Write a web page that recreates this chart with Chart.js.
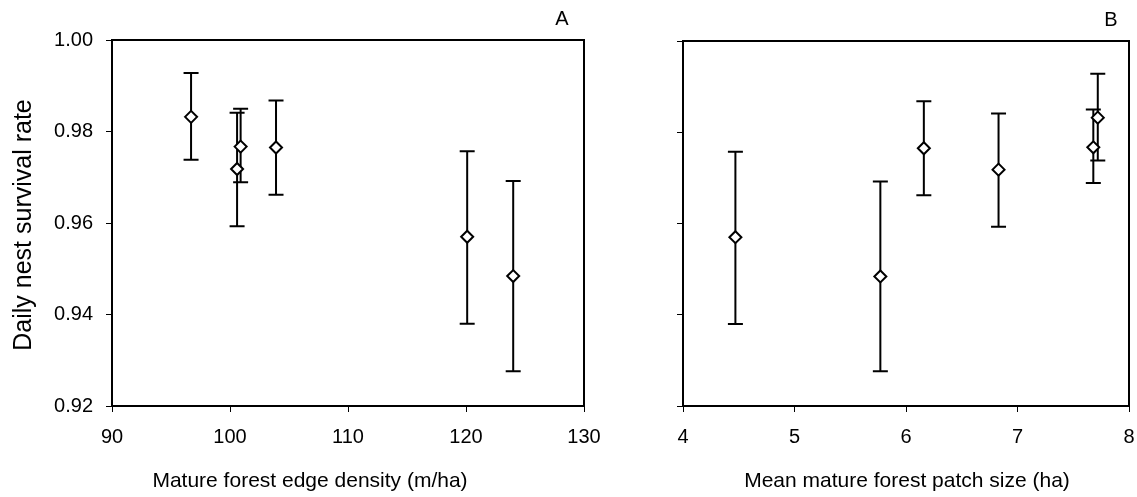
<!DOCTYPE html>
<html lang="en">
<head>
    <meta charset="UTF-8">
    <title>Daily nest survival</title>
    <script src="https://cdn.jsdelivr.net/npm/chart.js"></script>
    <style>
        body { margin: 0; background: #fff; }
        #wrapA { position: absolute; left: 0; top: 0; }
        #wrapB { position: absolute; left: 600px; top: 0; }
    </style>
</head>
<body>
    <div id="wrapA"><canvas id="chartA" width="600" height="497"></canvas></div>
    <div id="wrapB"><canvas id="chartB" width="537" height="497"></canvas></div>

    <script>
        // one entry per site
        const edgeDensity = [96.7, 100.6, 100.9, 103.9, 120.1, 124.0];
        const patchSize = [7.72, 6.83, 7.68, 6.16, 4.47, 5.77];
        const survival = [0.9832, 0.9718, 0.9767, 0.9765, 0.9570, 0.9484];
        const ciLow = [0.9738, 0.9593, 0.9689, 0.9662, 0.9380, 0.9276];
        const ciHigh = [0.9928, 0.9841, 0.9850, 0.9868, 0.9757, 0.9692];

        const yTicks = [0.92, 0.94, 0.96, 0.98, 1.00];
        const xTicksA = [90, 100, 110, 120, 130];
        const xTicksB = [4, 5, 6, 7, 8];

        const family = '"Liberation Sans", Arial, sans-serif';
        const tickFont = { family: family, size: 20 };
        Chart.defaults.color = '#000';

        // vertical error bars with caps, drawn under the diamonds
        const errorBars = {
            id: 'errorBars',
            beforeDatasetsDraw(chart) {
                const ctx = chart.ctx;
                const xs = chart.scales.x, ys = chart.scales.y;
                const pts = chart.data.datasets[0].data;
                ctx.save();
                ctx.strokeStyle = '#000';
                ctx.lineWidth = 2;
                pts.forEach((p, i) => {
                    const x = xs.getPixelForValue(p.x);
                    const y1 = ys.getPixelForValue(ciLow[i]);
                    const y2 = ys.getPixelForValue(ciHigh[i]);
                    ctx.beginPath();
                    ctx.moveTo(x, y1); ctx.lineTo(x, y2);
                    ctx.moveTo(x - 7.5, y1); ctx.lineTo(x + 7.5, y1);
                    ctx.moveTo(x - 7.5, y2); ctx.lineTo(x + 7.5, y2);
                    ctx.stroke();
                });
                ctx.restore();
            }
        };

        // box round the plot area, panel letter and axis titles
        const frame = {
            id: 'frame',
            afterDraw(chart, args, o) {
                const ctx = chart.ctx;
                const a = chart.chartArea;
                ctx.save();
                ctx.strokeStyle = '#000';
                ctx.lineWidth = 2;
                ctx.strokeRect(a.left, a.top, a.right - a.left, a.bottom - a.top);
                ctx.fillStyle = '#000';
                ctx.textAlign = 'center';
                ctx.textBaseline = 'middle';
                ctx.font = '20px ' + family;
                ctx.fillText(o.letter, a.right - o.letterDx, a.top - 21);
                ctx.font = '21px ' + family;
                ctx.fillText(o.xTitle, o.xTitleX, a.bottom + 75);
                if (o.yTitle) {
                    ctx.translate(24, (a.top + a.bottom) / 2 + 2);
                    ctx.rotate(-Math.PI / 2);
                    ctx.font = '25px ' + family;
                    ctx.fillText(o.yTitle, 0, 0);
                }
                ctx.restore();
            }
        };

        function makeChart(id, xs, xTicks, frameOpts, yWidth, showY, pad) {
            return new Chart(document.getElementById(id).getContext('2d'), {
                type: 'scatter',
                data: {
                    datasets: [{
                        data: xs.map((v, i) => ({ x: v, y: survival[i] })),
                        pointStyle: 'rectRot',
                        pointRadius: 6,
                        pointBorderWidth: 2,
                        pointBorderColor: '#000',
                        pointBackgroundColor: '#fff'
                    }]
                },
                options: {
                    responsive: false,
                    animation: false,
                    events: [],
                    layout: { padding: pad },
                    plugins: {
                        legend: { display: false },
                        tooltip: { enabled: false },
                        frame: frameOpts
                    },
                    scales: {
                        x: {
                            type: 'linear',
                            min: xTicks[0],
                            max: xTicks[xTicks.length - 1],
                            afterBuildTicks: s => { s.ticks = xTicks.map(v => ({ value: v })); },
                            afterFit: s => { s.height = 91; s.paddingLeft = 0; s.paddingRight = 0; },
                            grid: { drawOnChartArea: false, tickLength: 6, tickColor: '#000', tickWidth: 1 },
                            border: { color: '#000', width: 2 },
                            ticks: { font: tickFont, padding: 13, maxRotation: 0 }
                        },
                        y: {
                            type: 'linear',
                            min: yTicks[0],
                            max: yTicks[yTicks.length - 1],
                            afterBuildTicks: s => { s.ticks = yTicks.map(v => ({ value: v })); },
                            afterFit: s => { s.width = yWidth; s.paddingTop = 0; s.paddingBottom = 0; },
                            grid: { drawOnChartArea: false, tickLength: 6, tickColor: '#000', tickWidth: 1 },
                            border: { color: '#000', width: 2 },
                            ticks: { display: showY, font: tickFont, padding: 13, callback: v => v.toFixed(2) }
                        }
                    }
                },
                plugins: [errorBars, frame]
            });
        }

        makeChart('chartA', edgeDensity, xTicksA,
            { letter: 'A', letterDx: 22, xTitle: 'Mature forest edge density (m/ha)', xTitleX: 310, yTitle: 'Daily nest survival rate' },
            112, true, { top: 40, right: 16, bottom: 0, left: 0 });
        makeChart('chartB', patchSize, xTicksB,
            { letter: 'B', letterDx: 18, xTitle: 'Mean mature forest patch size (ha)', xTitleX: 307, yTitle: null },
            83, false, { top: 41, right: 6, bottom: 0, left: 0 });
    </script>
</body>
</html>
